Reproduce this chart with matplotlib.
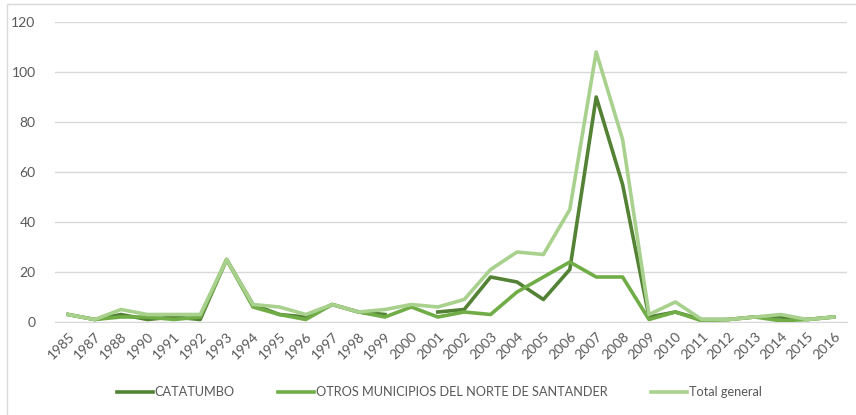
import numpy as np
import matplotlib.pyplot as plt
from matplotlib.patches import Rectangle

years = ['1985', '1987', '1988', '1990', '1991', '1992', '1993', '1994', '1995', '1996',
         '1997', '1998', '1999', '2000', '2001', '2002', '2003', '2004', '2005', '2006',
         '2007', '2008', '2009', '2010', '2011', '2012', '2013', '2014', '2015', '2016']
catatumbo = [3, 1, 3, 1, 2, 1, 25, 7, 3, 2,
             7, 4, 3, np.nan, 4, 5, 18, 16, 9, 21,
             90, 55, 2, 4, 1, 1, 2, 2, 1, 2]
otros = [3, 1, 2, 2, 1, 2, 25, 6, 3, 1,
         7, 4, 2, 6, 2, 4, 3, 12, 18, 24,
         18, 18, 1, 4, 0.5, 1, 2, 0.5, 1, 2]
total = [3, 1, 5, 3, 3, 3, 25, 7, 6, 3,
         7, 4, 5, 7, 6, 9, 21, 28, 27, 45,
         108, 73, 3, 8, 1, 1, 2, 3, 1, 2]

plt.rcParams['font.family'] = ['Lato', 'DejaVu Sans']
fig = plt.figure(figsize=(8.56, 4.15), dpi=100)
ax = fig.add_axes([55 / 856, 1 - 322 / 415, 792 / 856, 300 / 415])

x = np.arange(len(years))
# excel draws the series in order, so the total ends up on top
ax.plot(x, catatumbo, color='#548235', lw=2.6, label='CATATUMBO', zorder=3)
ax.plot(x, otros, color='#70ad47', lw=2.6, label='OTROS MUNICIPIOS DEL NORTE DE SANTANDER', zorder=4)
ax.plot(x, total, color='#a9d18e', lw=2.6, label='Total general', zorder=5)

ax.set_xlim(-0.5, len(years) - 0.5)
ax.set_ylim(0, 120)
ax.set_yticks(range(0, 121, 20))
ax.set_xticks(x)
ax.set_xticklabels(years, rotation=45, ha='right', rotation_mode='anchor')
ax.tick_params(axis='both', length=0, labelsize=10, colors='#595959')
ax.tick_params(axis='x', pad=6)
ax.tick_params(axis='y', pad=14)
ax.grid(axis='y', color='#d9d9d9', lw=1)
ax.set_axisbelow(True)
for s in ['top', 'right', 'left']:
    ax.spines[s].set_visible(False)
ax.spines['bottom'].set_color('#d9d9d9')

leg = fig.legend(loc='center', bbox_to_anchor=(0.513, 1 - 392 / 415),
                 ncol=3, frameon=False, fontsize=9.2, handlelength=2.8, columnspacing=3.4,
                 handletextpad=0.15)
for t in leg.get_texts():
    t.set_color('#595959')

fig.patches.append(Rectangle((7 / 856, -0.1), 1.2, 1 - 4 / 415 + 0.1, transform=fig.transFigure,
                             fill=False, edgecolor='#d9d9d9', lw=1))

fig.savefig('out.png', dpi=100)
